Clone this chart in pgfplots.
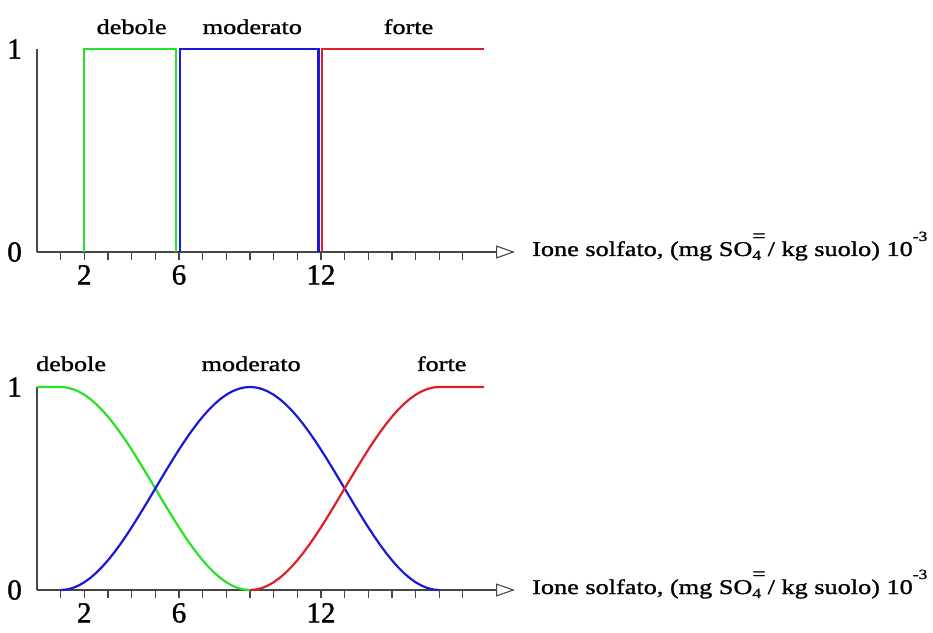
\documentclass[border=0pt]{standalone}
\usepackage{fontspec}
\setmainfont{Liberation Serif}[FakeStretch=1.25, FakeBold=1.2]
\newfontfamily\numfont{Liberation Serif}[FakeBold=1.4]
\usepackage{pgfplots}
\pgfplotsset{compat=1.18}
\usetikzlibrary{arrows.meta}

\definecolor{cDebole}{RGB}{40,225,40}
\definecolor{cModerato}{RGB}{25,25,215}
\definecolor{cForte}{RGB}{225,30,40}
\definecolor{cAxis}{RGB}{70,70,70}

\newcommand{\labfont}{\fontsize{21}{24}\selectfont}
\newcommand{\tickfont}{\numfont\fontsize{29}{30}\selectfont}
\newcommand{\smallfont}{\fontsize{14}{14}\selectfont}
% axis title: sulphate ion with charge above and count below
\newcommand{\axistitle}{Ione solfato, (mg
  SO\rlap{\raisebox{14pt}{\fontsize{19}{19}\selectfont =}}\raisebox{-4pt}{\smallfont 4}
  / kg suolo) 10\raisebox{15pt}{\smallfont -3}}

\pgfplotsset{
  membership/.style={
    scale only axis,
    width=478pt, height=203pt,
    xmin=0, xmax=20.2, ymin=0, ymax=1,
    axis lines=left,
    axis line style={cAxis, line width=1.2pt},
    x axis line style={-{Triangle[open, length=19pt, width=13pt, line width=1.1pt]}},
    y axis line style={-},
    xtick={1,...,18},
    xticklabels={{},2,{},{},{},6,{},{},{},{},{},12,{},{},{},{},{},{}},
    ytick={0,1},
    tick align=outside,
    major tick length=8pt,
    x tick style={cAxis, line width=1.1pt},
    y tick style={draw=none},
    /pgf/number format/assume math mode=true,
    tick label style={font=\tickfont, text=black, inner sep=0pt},
    xticklabel style={yshift=-5pt},
    yticklabel style={xshift=-7pt},
    clip=false,
    every axis plot/.append style={line width=2.2pt, line join=miter},
  },
}

\begin{document}
\begin{tikzpicture}[x=1pt, y=1pt]
\useasboundingbox (0,0) rectangle (933,632);

% crisp sets
\begin{axis}[membership, at={(37pt,380pt)}, anchor=origin]
  \addplot[cDebole] coordinates {(2,0) (2,1) (5.89,1) (5.89,0)};
  \addplot[cModerato] coordinates {(6.05,0) (6.05,1) (11.9,1) (11.9,0)};
  \addplot[cForte] coordinates {(12.06,0) (12.06,1) (18.9,1)};
  \node[anchor=base, yshift=15pt, font=\labfont] at (axis cs:4,1) {debole};
  \node[anchor=base, yshift=15pt, font=\labfont] at (axis cs:9.1,1) {moderato};
  \node[anchor=base, yshift=15pt, font=\labfont] at (axis cs:15.7,1) {forte};
  \node[anchor=base west, inner sep=0pt, xshift=17pt, yshift=-4pt, font=\labfont]
    at (axis cs:20.2,0) {\axistitle};
\end{axis}

% fuzzy sets
\begin{axis}[membership, at={(37pt,42pt)}, anchor=origin]
  \addplot[cDebole] coordinates {
    (0,1) (1,1) (1.25,0.9976) (1.5,0.9904) (1.75,0.9785) (2,0.9619) (2.25,0.9410)
    (2.5,0.9157) (2.75,0.8865) (3,0.8536) (3.25,0.8172) (3.5,0.7778) (3.75,0.7357)
    (4,0.6913) (4.25,0.6451) (4.5,0.5975) (4.75,0.5490) (5,0.5) (5.25,0.4510)
    (5.5,0.4025) (5.75,0.3549) (6,0.3087) (6.25,0.2643) (6.5,0.2222) (6.75,0.1828)
    (7,0.1464) (7.25,0.1135) (7.5,0.0843) (7.75,0.0590) (8,0.0381) (8.25,0.0215)
    (8.5,0.0096) (8.75,0.0024) (9,0)};
  \addplot[cModerato] coordinates {
    (1,0) (1.25,0.0024) (1.5,0.0096) (1.75,0.0215) (2,0.0381) (2.25,0.0590)
    (2.5,0.0843) (2.75,0.1135) (3,0.1464) (3.25,0.1828) (3.5,0.2222) (3.75,0.2643)
    (4,0.3087) (4.25,0.3549) (4.5,0.4025) (4.75,0.4510) (5,0.5) (5.25,0.5490)
    (5.5,0.5975) (5.75,0.6451) (6,0.6913) (6.25,0.7357) (6.5,0.7778) (6.75,0.8172)
    (7,0.8536) (7.25,0.8865) (7.5,0.9157) (7.75,0.9410) (8,0.9619) (8.25,0.9785)
    (8.5,0.9904) (8.75,0.9976) (9,1) (9.25,0.9976) (9.5,0.9904) (9.75,0.9785)
    (10,0.9619) (10.25,0.9410) (10.5,0.9157) (10.75,0.8865) (11,0.8536)
    (11.25,0.8172) (11.5,0.7778) (11.75,0.7357) (12,0.6913) (12.25,0.6451)
    (12.5,0.5975) (12.75,0.5490) (13,0.5) (13.25,0.4510) (13.5,0.4025)
    (13.75,0.3549) (14,0.3087) (14.25,0.2643) (14.5,0.2222) (14.75,0.1828)
    (15,0.1464) (15.25,0.1135) (15.5,0.0843) (15.75,0.0590) (16,0.0381)
    (16.25,0.0215) (16.5,0.0096) (16.75,0.0024) (17,0)};
  \addplot[cForte] coordinates {
    (9,0) (9.25,0.0024) (9.5,0.0096) (9.75,0.0215) (10,0.0381) (10.25,0.0590)
    (10.5,0.0843) (10.75,0.1135) (11,0.1464) (11.25,0.1828) (11.5,0.2222)
    (11.75,0.2643) (12,0.3087) (12.25,0.3549) (12.5,0.4025) (12.75,0.4510)
    (13,0.5) (13.25,0.5490) (13.5,0.5975) (13.75,0.6451) (14,0.6913)
    (14.25,0.7357) (14.5,0.7778) (14.75,0.8172) (15,0.8536) (15.25,0.8865)
    (15.5,0.9157) (15.75,0.9410) (16,0.9619) (16.25,0.9785) (16.5,0.9904)
    (16.75,0.9976) (17,1) (18.9,1)};
  \node[anchor=base, yshift=16pt, font=\labfont] at (axis cs:1.44,1) {debole};
  \node[anchor=base, yshift=16pt, font=\labfont] at (axis cs:9.05,1) {moderato};
  \node[anchor=base, yshift=16pt, font=\labfont] at (axis cs:17.1,1) {forte};
  \node[anchor=base west, inner sep=0pt, xshift=17pt, yshift=-4pt, font=\labfont]
    at (axis cs:20.2,0) {\axistitle};
\end{axis}
\end{tikzpicture}
\end{document}
